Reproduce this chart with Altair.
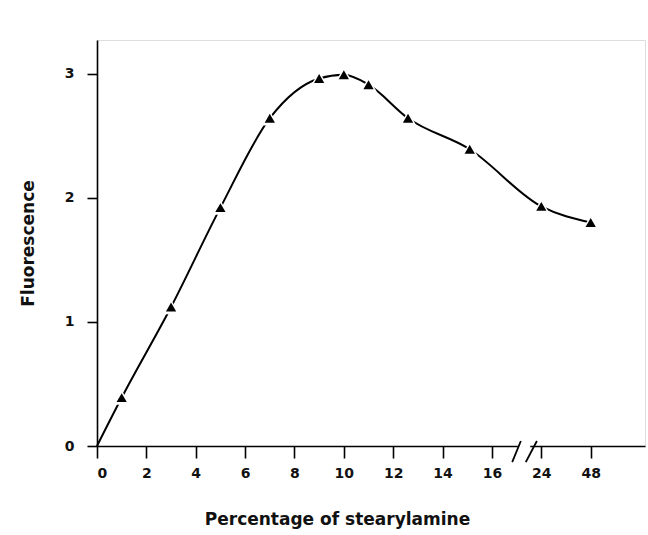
import altair as alt
import pandas as pd

# data
pct = [1, 3, 5, 7, 9, 10, 11, 12.6, 15.1, 24, 48]
fluor = [0.39, 1.12, 1.92, 2.64, 2.96, 2.99, 2.91, 2.64, 2.39, 1.93, 1.80]
tick_values = [0, 2, 4, 6, 8, 10, 12, 14, 16, 18, 20]
tick_labels = ["0", "2", "4", "6", "8", "10", "12", "14", "16", "24", "48"]

df = pd.DataFrame({"pct": pct, "fluor": fluor})
line_df = pd.DataFrame({"pct": [0] + pct, "fluor": [0] + fluor})

label_map = "{" + ",".join(f"'{v}':'{l}'" for v, l in zip(tick_values, tick_labels)) + "}"

# map percentage to axis position (broken axis: 24 -> 18, 48 -> 20)
pos_expr = "datum.pct <= 16 ? datum.pct : (datum.pct == 24 ? 18 : 20)"

FONT = "DejaVu Sans"

xscale = alt.Scale(domain=[0, 22.2], nice=False, zero=False)
yscale = alt.Scale(domain=[0, 3.27], nice=False)

common_axis = dict(
    grid=False,
    domainColor="black",
    tickColor="black",
    domainWidth=1.6,
    tickWidth=1.6,
    labelFont=FONT,
    labelFontSize=14,
    labelFontWeight="bold",
    labelColor="#111",
    titleFont=FONT,
    titleFontSize=17,
    titleFontWeight="bold",
    titleColor="#111",
)

xenc = alt.X(
    "pos:Q",
    scale=xscale,
    axis=alt.Axis(
        values=tick_values,
        labelExpr=f"{label_map}[datum.value]",
        title="Percentage of stearylamine",
        tickSize=12,
        labelPadding=8,
        titlePadding=31,
        titleX=240,
        titleAlign="center",
        titleAnchor="start",
        **common_axis,
    ),
)
yenc = alt.Y(
    "fluor:Q",
    scale=yscale,
    axis=alt.Axis(
        values=[0, 1, 2, 3],
        format="d",
        title="Fluorescence",
        tickSize=10,
        labelPadding=13,
        titlePadding=27,
        **common_axis,
    ),
)

line = (
    alt.Chart(line_df)
    .transform_calculate(pos=pos_expr)
    .mark_line(color="black", strokeWidth=2, interpolate="monotone")
    .encode(x=xenc, y=yenc)
)

halo = (
    alt.Chart(df)
    .transform_calculate(pos=pos_expr)
    .mark_point(shape="triangle-up", filled=True, fill="white", size=280, opacity=1, strokeWidth=0)
    .encode(x="pos:Q", y="fluor:Q")
)
points = (
    alt.Chart(df)
    .transform_calculate(pos=pos_expr)
    .mark_point(shape="triangle-up", filled=True, fill="black", size=105, opacity=1, strokeWidth=0)
    .encode(x="pos:Q", y="fluor:Q")
)

# axis break marks (decoration)
brk = pd.DataFrame({"x1": [16.82, 17.37], "x2": [17.17, 17.82], "y1": [-0.13, -0.13], "y2": [0.04, 0.04]})
gap = (
    alt.Chart(pd.DataFrame({"a": [17.05], "b": [17.55]}))
    .mark_rect(color="white")
    .encode(x="a:Q", x2="b:Q", y=alt.value(403), y2=alt.value(409))
)
breaks = (
    alt.Chart(brk)
    .mark_rule(color="black", strokeWidth=1.8)
    .encode(x="x1:Q", x2="x2:Q", y="y1:Q", y2="y2:Q")
)

chart = (
    alt.layer(line, halo, points, gap, breaks)
    .properties(
        width=548,
        height=406,
        autosize=alt.AutoSizeParams(type="none"),
        padding={"left": 97, "top": 40, "right": 3, "bottom": 89},
    )
    .configure_view(stroke=None)
    .configure(background="white")
)

chart.save("out.html", embed_options={"renderer": "svg", "actions": False})
